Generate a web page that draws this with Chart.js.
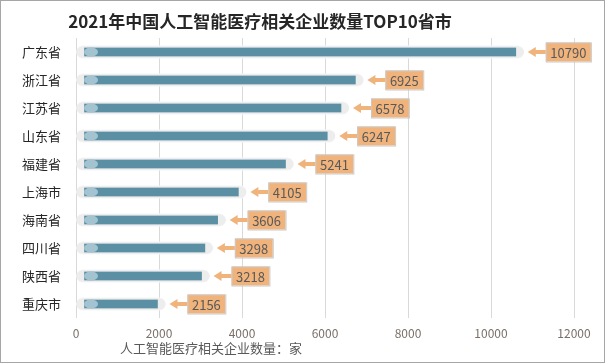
<!DOCTYPE html>
<html>
<head>
<meta charset="utf-8">
<script src="https://cdn.jsdelivr.net/npm/chart.js@4/dist/chart.umd.min.js"></script>
<style>
  html, body { margin: 0; padding: 0; background: #fff; }
  #wrap { width: 605px; height: 363px; }
</style>
</head>
<body>
<div id="wrap"><canvas id="chart" width="605" height="363"></canvas></div>
<script>
const provinces = ["广东省", "浙江省", "江苏省", "山东省", "福建省", "上海市", "海南省", "四川省", "陕西省", "重庆市"];
const companyCounts = [10790, 6925, 6578, 6247, 5241, 4105, 3606, 3298, 3218, 2156];
const xTicks = [0, 2000, 4000, 6000, 8000, 10000, 12000];

const titleText = "2021年中国人工智能医疗相关企业数量TOP10省市";
const axisTitle = "人工智能医疗相关企业数量：家";
const cjk = '"Noto Sans CJK SC", "Noto Sans", sans-serif';

const ctx = document.getElementById("chart").getContext("2d");

// title, axis title, start dots, arrow labels, frame
const decorations = {
  id: "decorations",
  afterDatasetsDraw(chart) {
    const { ctx, scales } = chart;
    const x0 = scales.x.getPixelForValue(0);
    const track = chart.getDatasetMeta(0).data;
    ctx.save();

    track.forEach((bar, i) => {
      // light blue dot at bar start
      ctx.fillStyle = "#a3c3d1";
      ctx.beginPath();
      ctx.ellipse(x0 + 15, bar.y, 7, 4.5, 0, 0, Math.PI * 2);
      ctx.fill();

      // arrow pointing to bar end
      const tip = bar.x + 4;
      const boxX = tip + 18;
      ctx.fillStyle = "#f0b37c";
      ctx.beginPath();
      ctx.moveTo(tip, bar.y);
      ctx.lineTo(tip + 8, bar.y - 5);
      ctx.lineTo(tip + 8, bar.y - 2);
      ctx.lineTo(boxX, bar.y - 2);
      ctx.lineTo(boxX, bar.y + 2);
      ctx.lineTo(tip + 8, bar.y + 2);
      ctx.lineTo(tip + 8, bar.y + 5);
      ctx.closePath();
      ctx.fill();

      // value box
      const label = String(companyCounts[i]);
      ctx.font = "13px " + cjk;
      const w = ctx.measureText(label).width + 9;
      ctx.fillStyle = "#f0b37c";
      ctx.fillRect(boxX, bar.y - 9.5, w, 19);
      ctx.strokeStyle = "#c9c9c9";
      ctx.lineWidth = 1;
      ctx.strokeRect(boxX + 0.5, bar.y - 9, w, 19);
      ctx.fillStyle = "#595959";
      ctx.textAlign = "left";
      ctx.textBaseline = "middle";
      ctx.fillText(label, boxX + 4.5, bar.y + 1);
    });

    // chart title
    ctx.fillStyle = "#262626";
    ctx.font = "bold 17px " + cjk;
    ctx.textAlign = "center";
    ctx.textBaseline = "middle";
    ctx.fillText(titleText, 260, 22);

    // x axis title
    ctx.fillStyle = "#595959";
    ctx.font = "13px " + cjk;
    ctx.fillText(axisTitle, 211, 348);

    // outer frame
    ctx.strokeStyle = "#a6a6a6";
    ctx.strokeRect(0.5, 0.5, chart.width - 1, chart.height - 1);
    ctx.restore();
  },
};

new Chart(ctx, {
  type: "bar",
  data: {
    labels: provinces,
    datasets: [
      {
        data: companyCounts,
        backgroundColor: "#ededed",
        borderColor: "#f7f7f7",
        borderWidth: 1,
        borderSkipped: false,
        borderRadius: 7,
        barThickness: 13,
        grouped: false,
        order: 2,
      },
      {
        data: companyCounts,
        backgroundColor: "#5b8fa4",
        borderColor: "#ededed",
        borderWidth: { top: 0, bottom: 0, left: 8, right: 8 },
        borderSkipped: false,
        borderRadius: 5,
        barThickness: 9,
        grouped: false,
        order: 1,
      },
    ],
  },
  options: {
    indexAxis: "y",
    responsive: false,
    animation: false,
    layout: { padding: { top: 38, right: 31, left: 10, bottom: 0 } },
    plugins: {
      legend: { display: false },
      tooltip: { enabled: false },
    },
    scales: {
      x: {
        min: 0,
        max: 12000,
        afterBuildTicks: (axis) => {
          axis.ticks = xTicks.map((v) => ({ value: v }));
        },
        afterFit: (axis) => {
          axis.height = 45;
        },
        grid: { color: "#d9d9d9", drawTicks: false },
        border: { display: false },
        ticks: {
          color: "#7a7068",
          padding: 8,
          font: { size: 12, family: cjk },
          callback: (value) => String(value),
        },
      },
      y: {
        afterFit: (axis) => {
          axis.width = 66;
        },
        grid: { display: false, drawTicks: false },
        border: { display: false },
        ticks: {
          color: "#262626",
          padding: 15,
          font: { size: 13, family: cjk },
        },
      },
    },
  },
  plugins: [decorations],
});
</script>
</body>
</html>
